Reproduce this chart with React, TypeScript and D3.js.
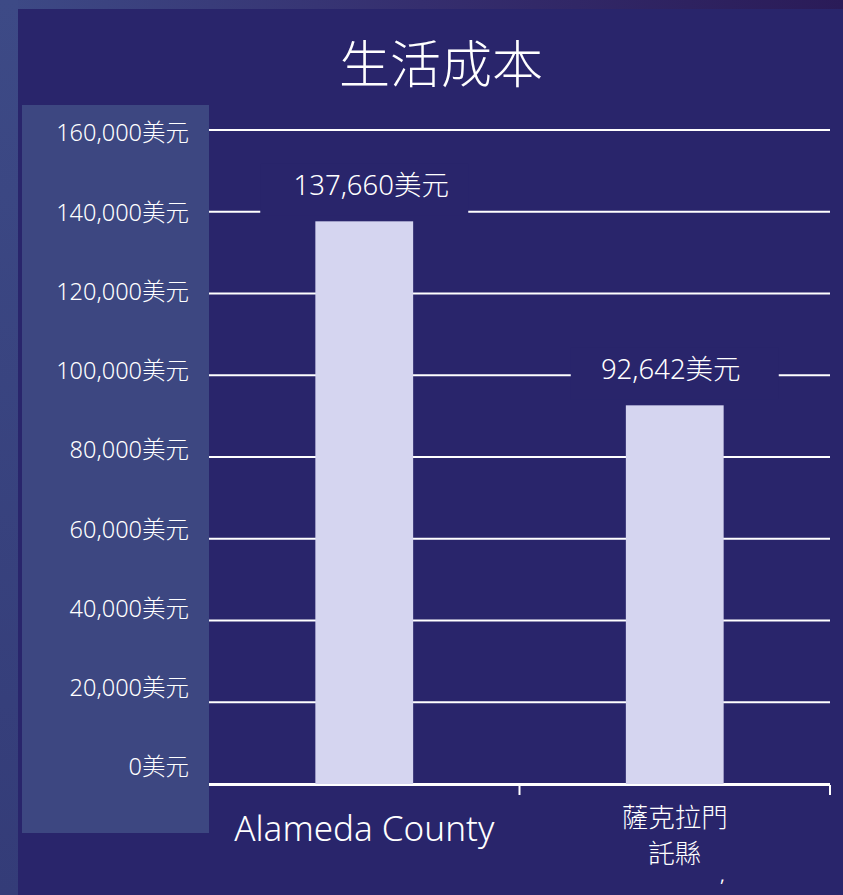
import React from "react";
import * as d3 from "d3";

const title = "生活成本";
const categories = ["Alameda County", "薩克拉門\n託縣"];
const values = [137660, 92642];
const valueLabels = ["137,660美元", "92,642美元"];
const yTicks = [0, 20000, 40000, 60000, 80000, 100000, 120000, 140000, 160000];
const yTickLabels = ["0美元", "20,000美元", "40,000美元", "60,000美元", "80,000美元", "100,000美元", "120,000美元", "140,000美元", "160,000美元"];

const W = 843, H = 895;
const PANEL = "#29256b";
const YPANEL = "#3d4781";
const BAR = "#d5d5f0";
const FONT_LATIN = "'Noto Sans', 'Noto Sans CJK TC', sans-serif";

export default function App() {
  const x0 = 209, x1 = 830;
  const y = d3.scaleLinear().domain([0, 160000]).range([784, 130]);
  const yLab = d3.scaleLinear().domain([0, 160000]).range([767, 133]);
  const x = d3.scaleBand<string>().domain(categories).range([x0, x1]).padding(0);
  const barW = x.bandwidth() * 0.315;

  return (
    <svg width={W} height={H} style={{ position: "absolute", left: 0, top: 0 }}>
      <defs>
        <linearGradient id="bg" x1="0" y1="0" x2="1" y2="0">
          <stop offset="0" stopColor="#3d4a86" />
          <stop offset="0.5" stopColor="#352e6e" />
          <stop offset="1" stopColor="#2a1b58" />
        </linearGradient>
        <linearGradient id="lstrip" x1="0" y1="0" x2="0" y2="1">
          <stop offset="0" stopColor="#3d4a86" />
          <stop offset="1" stopColor="#343c78" />
        </linearGradient>
      </defs>
      <rect x={0} y={0} width={W} height={H} fill="url(#bg)" />
      <rect x={0} y={0} width={18} height={H} fill="url(#lstrip)" />
      <rect x={18} y={9} width={W - 18} height={H - 9} fill={PANEL} />
      <rect x={22} y={105} width={187} height={728} fill={YPANEL} />

      <text x={441} y={83} textAnchor="middle" fill="#ffffff" fontSize={51}
        fontFamily="'Noto Sans CJK SC', sans-serif" fontWeight={300}>{title}</text>

      {yTicks.map((t) => (
        <line key={"g" + t} x1={x0} x2={x1} y1={y(t)} y2={y(t)} stroke="#ffffff" strokeWidth={2} />
      ))}
      {yTicks.map((t, i) => (
        <text key={"t" + t} x={189} y={yLab(t)} dy="0.36em" textAnchor="end" fill="#ffffff"
          fontSize={23.5} fontFamily={FONT_LATIN} fontWeight={300}>{yTickLabels[i]}</text>
      ))}

      {categories.map((c, i) => {
        const cx = (x(c) as number) + x.bandwidth() / 2;
        const top = y(values[i]);
        return (
          <g key={"b" + i}>
            <rect x={cx - barW / 2} y={top} width={barW} height={y(0) - top} fill={BAR} />
            <rect x={cx - 104} y={top - 58} width={208} height={52} fill={PANEL} />
            <text x={cx + (i === 0 ? 7 : -4)} y={top - 36} dy="0.36em" textAnchor="middle" fill="#ffffff"
              fontSize={27.5} fontFamily={FONT_LATIN} fontWeight={300}>{valueLabels[i]}</text>
          </g>
        );
      })}

      <line x1={x0} x2={x1} y1={785} y2={785} stroke="#ffffff" strokeWidth={2} />
      {categories.map((c) => (
        <line key={"tk" + c} x1={(x(c) as number) + x.bandwidth()} x2={(x(c) as number) + x.bandwidth()}
          y1={785} y2={795} stroke="#ffffff" strokeWidth={2} />
      ))}

      {categories.map((c, i) => {
        const cx = (x(c) as number) + x.bandwidth() / 2;
        const lines = c.split("\n");
        if (lines.length === 1) {
          return (
            <text key={"c" + i} x={cx} y={828} dy="0.36em" textAnchor="middle" fill="#ffffff"
              fontSize={35} fontFamily={FONT_LATIN} fontWeight={300}>{c}</text>
          );
        }
        return (
          <text key={"c" + i} x={cx} y={817} textAnchor="middle" fill="#ffffff"
            fontSize={26.5} fontFamily="'Noto Sans CJK TC', sans-serif" fontWeight={300}>
            {lines.map((l, j) => (
              <tspan key={j} x={cx} y={817 + j * 36} dy="0.36em">{l}</tspan>
            ))}
          </text>
        );
      })}
      <text x={720} y={882} fill="#ffffff" fontSize={18} fontFamily={FONT_LATIN}>,</text>
    </svg>
  );
}
